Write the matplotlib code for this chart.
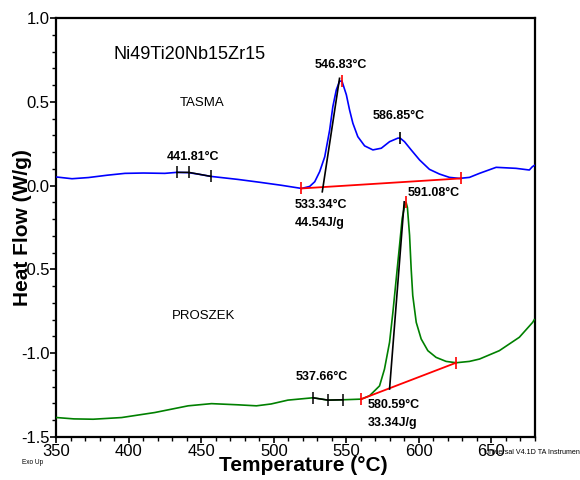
import matplotlib
matplotlib.use("Agg")
import matplotlib.pyplot as plt
from matplotlib.ticker import MultipleLocator

plt.rcParams['font.family'] = ['Liberation Sans', 'DejaVu Sans']

# ---------------- data ----------------
tasma_T = [350.3, 360.7, 372, 385, 397.2, 410, 424.7, 433.0, 441.3, 448, 456.4,
           475, 490, 505, 519, 524.6, 528.1, 531.5, 535.0, 538.4, 540.6, 543.0,
           545.2, 546.8, 549.9, 552.1, 554.4, 557.8, 562.5, 568.2, 574.0, 579.7,
           585.4, 586.9, 590.0, 594.6, 600.4, 607.2, 614.1, 621.0, 627.9, 634.8,
           641.7, 653.2, 666.9, 676.1, 678.2, 679.5]
tasma_v = [0.051, 0.041, 0.048, 0.062, 0.073, 0.075, 0.073, 0.079, 0.077, 0.068, 0.055,
           0.037, 0.020, 0.002, -0.017, -0.005, 0.023, 0.083, 0.172, 0.332, 0.472, 0.572,
           0.622, 0.625, 0.542, 0.452, 0.372, 0.292, 0.237, 0.213, 0.223, 0.262,
           0.283, 0.284, 0.262, 0.213, 0.153, 0.097, 0.069, 0.049, 0.043, 0.049,
           0.073, 0.109, 0.103, 0.093, 0.113, 0.120]

proszek_T = [350.1, 362, 375.3, 394.9, 417.8, 440.8, 456.9, 475.2, 487.9, 498, 509.6,
             526.9, 537.2, 547.5, 560.2, 565.9, 572.8, 576.2, 579.7, 582.0, 584.3,
             586.6, 588.4, 590.2, 591.1, 592.0, 593.5, 594.6, 595.7, 598.1, 601.5,
             606.1, 611.8, 618.7, 625.6, 634.8, 641.7, 655.4, 669.2, 678.4, 679.5]
proszek_v = [-1.384, -1.392, -1.394, -1.384, -1.354, -1.314, -1.301, -1.308, -1.314, -1.303, -1.280,
             -1.266, -1.280, -1.278, -1.274, -1.254, -1.195, -1.095, -0.935, -0.756, -0.556,
             -0.356, -0.196, -0.115, -0.100, -0.130, -0.296, -0.496, -0.656, -0.816, -0.915,
             -0.985, -1.025, -1.049, -1.057, -1.049, -1.035, -0.985, -0.905, -0.816, -0.800]

# analysis constructions (temperature, heat flow)
tasma_tg_T = [433.0, 441.3, 456.4]
tasma_tg_v = [0.079, 0.079, 0.055]
tasma_base_T = [518.9, 629.1]
tasma_base_v = [-0.017, 0.043]
tasma_tan_T = [533.3, 545.2]
tasma_tan_v = [-0.037, 0.640]
tasma_peak1 = (546.83, 0.625)
tasma_peak2 = (586.85, 0.284)

proszek_tg_T = [526.9, 537.2, 547.5]
proszek_tg_v = [-1.266, -1.280, -1.278]
proszek_base_T = [560.2, 625.6]
proszek_base_v = [-1.274, -1.057]
proszek_tan_T = [579.7, 589.8]
proszek_tan_v = [-1.214, -0.097]
proszek_peak = (591.08, -0.100)

# ---------------- figure ----------------
fig = plt.figure(figsize=(5.8, 4.8), dpi=100)
ax = fig.add_axes([0.0974, 0.0896, 0.8250, 0.8729])

BLUE = '#0000ff'
GREEN = '#008000'
RED = '#ff0000'

ax.plot(tasma_T, tasma_v, color=BLUE, lw=1.2, zorder=3)
ax.plot(proszek_T, proszek_v, color=GREEN, lw=1.2, zorder=3)

# tg constructions
ax.plot(tasma_tg_T, tasma_tg_v, color='black', lw=1.1, marker='|', ms=8, mew=1.1, zorder=4)
ax.plot(proszek_tg_T, proszek_tg_v, color='black', lw=1.1, marker='|', ms=8, mew=1.1, zorder=4)

# baselines
ax.plot(tasma_base_T, tasma_base_v, color=RED, lw=1.3, marker='|', ms=9, mew=1.2, zorder=4)
ax.plot(proszek_base_T, proszek_base_v, color=RED, lw=1.3, marker='|', ms=9, mew=1.2, zorder=4)

# tangents
ax.plot(tasma_tan_T, tasma_tan_v, color='black', lw=1.2, zorder=4)
ax.plot(proszek_tan_T, proszek_tan_v, color='black', lw=1.2, zorder=4)

# peak markers
ax.plot([tasma_peak1[0]], [tasma_peak1[1]], color=RED, marker='|', ms=9, mew=1.2, ls='none', zorder=5)
ax.plot([tasma_peak2[0]], [tasma_peak2[1]], color='black', marker='|', ms=9, mew=1.2, ls='none', zorder=5)
ax.plot([proszek_peak[0]], [proszek_peak[1]], color=RED, marker='|', ms=9, mew=1.2, ls='none', zorder=5)

# text annotations
ax.text(442.0, 0.781, 'Ni49Ti20Nb15Zr15', fontsize=13, ha='center', va='center')
ax.text(450.2, 0.494, 'TASMA', fontsize=9.5, ha='center', va='center')
ax.text(451.6, -0.781, 'PROSZEK', fontsize=9.5, ha='center', va='center')

bkw = dict(fontsize=9, fontweight='bold', va='center')
ax.text(444.0, 0.171, '441.81°C', ha='center', **bkw)
ax.text(545.8, 0.722, '546.83°C', ha='center', **bkw)
ax.text(586.1, 0.416, '586.85°C', ha='center', **bkw)
ax.text(514.3, -0.117, '533.34°C', ha='left', **bkw)
ax.text(514.3, -0.226, '44.54J/g', ha='left', **bkw)
ax.text(592.1, -0.047, '591.08°C', ha='left', **bkw)
ax.text(532.9, -1.145, '537.66°C', ha='center', **bkw)
ax.text(564.7, -1.308, '580.59°C', ha='left', **bkw)
ax.text(564.7, -1.414, '33.34J/g', ha='left', **bkw)

# axes formatting
ax.set_xlim(350, 680)
ax.set_ylim(-1.5, 1.0)
ax.xaxis.set_major_locator(MultipleLocator(50))
ax.xaxis.set_minor_locator(MultipleLocator(10))
ax.yaxis.set_major_locator(MultipleLocator(0.5))
ax.yaxis.set_minor_locator(MultipleLocator(0.1))
ax.set_xticks([350, 400, 450, 500, 550, 600, 650])
ax.set_yticks([1.0, 0.5, 0.0, -0.5, -1.0, -1.5])
ax.set_yticklabels(['1.0', '0.5', '0.0', '-0.5', '-1.0', '-1.5'])
ax.tick_params(which='major', direction='out', length=4, width=1.2, labelsize=12, pad=1)
ax.tick_params(which='minor', direction='out', length=3, width=1.0)
for sp in ax.spines.values():
    sp.set_linewidth(1.6)

ax.set_xlabel('Temperature (°C)', fontsize=15, fontweight='bold')
ax.set_ylabel('Heat Flow (W/g)', fontsize=15, fontweight='bold')
ax.xaxis.set_label_coords(0.515, -0.045)
ax.yaxis.set_label_coords(-0.052, 0.5)

fig.text(22 / 580, 1 - 462 / 480, 'Exo Up', fontsize=4.7, ha='left', va='center')
fig.text(484 / 580, 1 - 452 / 480, 'Universal V4.1D TA Instruments', fontsize=5.1,
         ha='left', va='center')

fig.savefig('out.png', dpi=100)
